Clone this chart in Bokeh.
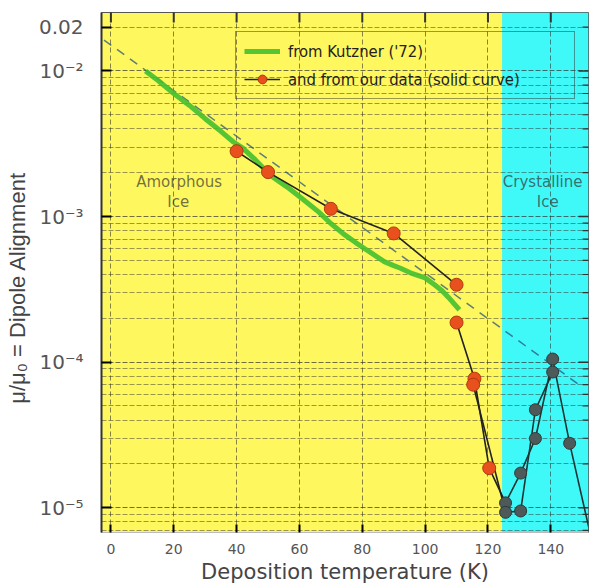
from bokeh.plotting import figure
from bokeh.models import (FixedTicker, BoxAnnotation, Legend, LegendItem, Label, Range1d)
from bokeh.embed import file_html
from bokeh.resources import INLINE

# ---------------- data ----------------
kutzner_T = [11, 15, 20, 25, 30, 35, 39, 42, 46, 51, 56, 61, 66, 70, 74, 78, 82, 87,
             90, 92, 96, 100, 103, 105.4, 108, 110.9]
kutzner_mu = [1.0e-2, 8.6e-3, 7.0e-3, 5.8e-3, 4.7e-3, 3.85e-3, 3.25e-3, 2.95e-3, 2.45e-3,
              1.9e-3, 1.6e-3, 1.32e-3, 1.08e-3, 8.96e-4, 7.6e-4, 6.6e-4, 5.78e-4, 4.9e-4,
              4.6e-4, 4.43e-4, 4.05e-4, 3.79e-4, 3.4e-4, 3.09e-4, 2.7e-4, 2.29e-4]

amorph_T = [40, 50, 70, 90, 110]
amorph_mu = [2.81e-3, 2.02e-3, 1.13e-3, 7.66e-4, 3.40e-4]

drop1_T = [110, 115.7, 120.4, 125.6]
drop1_mu = [1.87e-4, 7.7e-5, 1.87e-5, 1.08e-5]
drop2_T = [115.3, 125.6]
drop2_mu = [7.0e-5, 9.3e-6]

red_T = [40, 50, 70, 90, 110, 110, 115.7, 115.3, 120.4]
red_mu = [2.81e-3, 2.02e-3, 1.13e-3, 7.66e-4, 3.40e-4, 1.87e-4, 7.7e-5, 7.0e-5, 1.87e-5]

cryst1_T = [125.6, 130.4, 135.1, 140.6, 146.0, 153.0]
cryst1_mu = [1.08e-5, 1.73e-5, 2.99e-5, 1.05e-4, 2.77e-5, 6.0e-6]
cryst2_T = [125.6, 130.4, 135.1, 140.6]
cryst2_mu = [9.3e-6, 9.5e-6, 4.71e-5, 8.55e-5]

fit_T = [-2.2, 148.6]
fit_mu = [1.63e-2, 7.1e-5]

crystal_start = 124.5

x_ticks = [0, 20, 40, 60, 80, 100, 120, 140]
y_ticks = [1e-5, 1e-4, 1e-3, 1e-2, 0.02]
y_tick_labels = {1e-5: "10\u207b\u2075", 1e-4: "10\u207b\u2074", 1e-3: "10\u207b\u00b3",
                 1e-2: "10\u207b\u00b2", 0.02: "0.02"}
y_major = [1e-5, 1e-4, 1e-3, 1e-2]
y_minor = [k * 10.0 ** e for e in range(-6, -1) for k in range(2, 10)]

YELLOW = "#FEF75E"
CYAN = "#3FF8F8"
RED = "#E8501E"
GREEN = "#42BF30"
GRAY = "#4E5A5A"

X0, X1 = -3, 152
Y0, Y1 = 6.76e-6, 0.0252

# ---------------- figure ----------------
p = figure(width=589, height=586, output_backend="svg", toolbar_location=None,
           y_axis_type="log", x_range=Range1d(X0, X1), y_range=Range1d(Y0, Y1),
           min_border_left=101, min_border_right=1, min_border_top=12, min_border_bottom=53)
p.background_fill_color = YELLOW
p.border_fill_color = "white"
p.outline_line_color = "#555555"
p.outline_line_width = 1

p.add_layout(BoxAnnotation(left=crystal_start, fill_color=CYAN, fill_alpha=1.0,
                           line_alpha=0, level="image"))

# grids
p.xgrid.ticker = FixedTicker(ticks=x_ticks)
p.xgrid.grid_line_color = "#333333"
p.xgrid.grid_line_alpha = 0.6
p.xgrid.grid_line_dash = "5 3"
p.ygrid.ticker = FixedTicker(ticks=y_major, minor_ticks=y_minor)
p.ygrid.grid_line_color = "#333333"
p.ygrid.grid_line_alpha = 0.7
p.ygrid.grid_line_dash = "5 2"
p.ygrid.minor_grid_line_color = "#333333"
p.ygrid.minor_grid_line_alpha = 0.5
p.ygrid.minor_grid_line_dash = "5 2"

# axes
xa = p.xaxis[0]
xa.ticker = FixedTicker(ticks=x_ticks)
xa.axis_label = "Deposition temperature (K)"
xa.axis_label_text_font = "DejaVu Sans"
xa.axis_label_text_font_size = "21px"
xa.axis_label_text_font_style = "normal"
xa.axis_label_text_color = "#444444"
xa.axis_label_standoff = 3
xa.major_label_text_font = "DejaVu Sans"
xa.major_label_text_font_size = "14px"
xa.major_label_text_color = "#555555"
xa.major_label_standoff = 11
xa.major_tick_in = 8
xa.major_tick_out = 0
xa.major_tick_line_width = 2
xa.minor_tick_line_color = None
xa.axis_line_color = "#BBBBBB"

ya = p.yaxis[0]
ya.ticker = FixedTicker(ticks=y_ticks, minor_ticks=y_minor)
ya.major_label_overrides = y_tick_labels
ya.axis_label = "\u03bc/\u03bc\u2080 = Dipole Alignment\u00a0\u00a0\u00a0\u00a0\u00a0"
ya.axis_label_text_font = "Liberation Sans"
ya.axis_label_text_font_size = "22px"
ya.axis_label_text_font_style = "normal"
ya.axis_label_text_color = "#444444"
ya.axis_label_standoff = 6
ya.major_label_text_font = "DejaVu Sans"
ya.major_label_text_font_size = "20px"
ya.major_label_text_color = "#555555"
ya.major_label_standoff = 14
ya.major_tick_in = 10
ya.major_tick_out = 0
ya.major_tick_line_width = 2
ya.minor_tick_line_color = None
ya.axis_line_color = "#333333"
ya.axis_line_width = 2

# inward tick marks on the top and right edges (dash markers clipped to the frame)
p.scatter(x_ticks, [Y1] * len(x_ticks), marker="dash", angle=1.5708, size=20,
          line_color="#333333", line_width=2)
p.scatter([X1] * len(y_minor), y_minor, marker="dash", size=12,
          line_color="#333333", line_width=1.2)
p.scatter([X1] * len(y_major), y_major, marker="dash", size=20,
          line_color="#333333", line_width=1.5)

# data renderers
p.line(fit_T, fit_mu, line_color="#2A5580", line_alpha=0.75, line_width=1.5, line_dash="9 7")
kz = p.line(kutzner_T, kutzner_mu, line_color=GREEN, line_width=5, line_alpha=0.9)
l1 = p.line(amorph_T, amorph_mu, line_color="#222222", line_width=1.6)
p.line(drop1_T, drop1_mu, line_color="#222222", line_width=1.6)
p.line(drop2_T, drop2_mu, line_color="#222222", line_width=1.6)
p.line(cryst1_T, cryst1_mu, line_color="#1E3434", line_width=1.6)
p.line(cryst2_T, cryst2_mu, line_color="#1E3434", line_width=1.6)
rd = p.scatter(red_T, red_mu, size=13, fill_color=RED, line_color="#B03A10", line_width=1)
p.scatter(cryst1_T, cryst1_mu, size=12, fill_color=GRAY, line_color="#2E3A3A", line_width=1)
p.scatter(cryst2_T, cryst2_mu, size=12, fill_color=GRAY, line_color="#2E3A3A", line_width=1)

# region labels
for txt, xx, yy in [("Amorphous", 21.7, 1.73e-3), ("Ice", 21.4, 1.26e-3),
                    ("Crystalline", 137.4, 1.73e-3), ("Ice", 139.0, 1.26e-3)]:
    p.add_layout(Label(x=xx, y=yy, text=txt, text_align="center", text_baseline="middle",
                       text_font="DejaVu Sans", text_font_size="15px",
                       text_color="#333333", text_alpha=0.7))

legend = Legend(items=[LegendItem(label="from Kutzner ('72)", renderers=[kz]),
                       LegendItem(label="and from our data (solid curve)", renderers=[l1, rd])],
                location=(134, 433), background_fill_alpha=0, border_line_color="#333333",
                border_line_width=1.5, label_text_font="DejaVu Sans Condensed",
                label_text_font_size="16.5px", label_text_color="#222222",
                glyph_width=36, glyph_height=22, spacing=6, padding=8, margin=0,
                label_width=278, label_standoff=8)
p.add_layout(legend)

open("out.html", "w").write(file_html(p, INLINE))
